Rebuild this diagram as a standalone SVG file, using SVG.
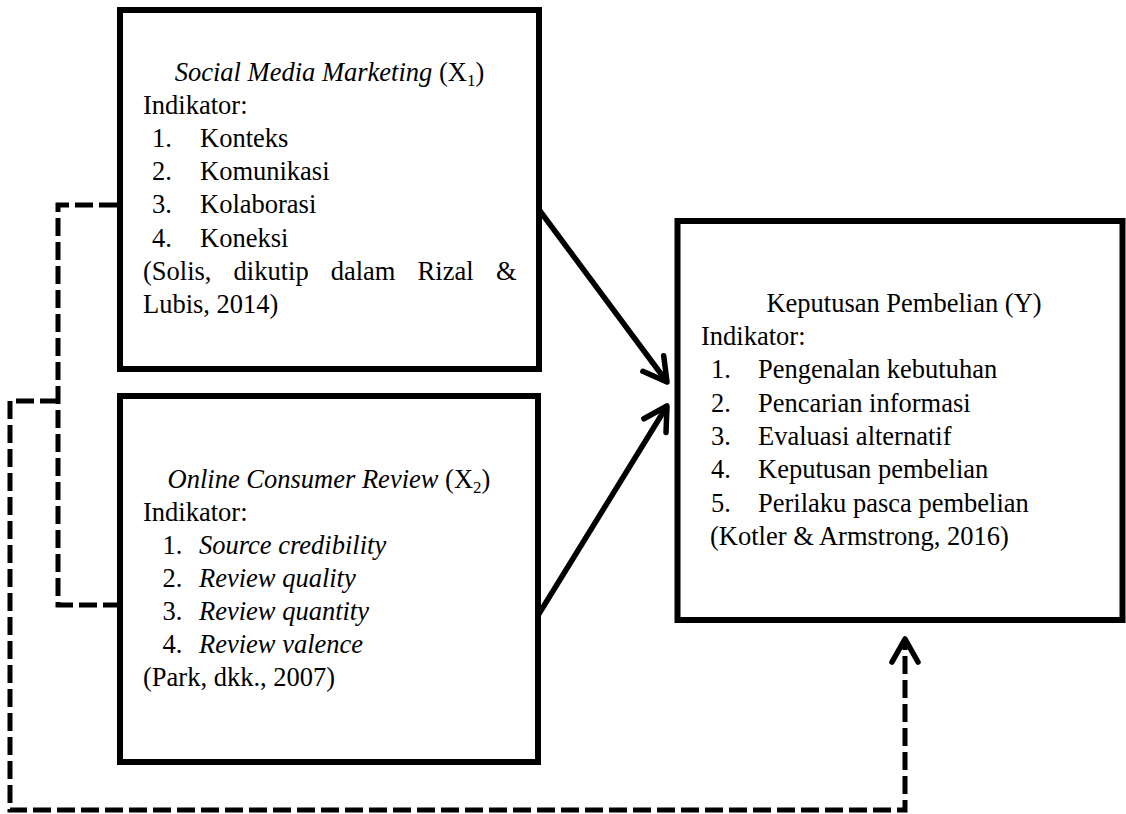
<svg xmlns="http://www.w3.org/2000/svg" width="1126" height="814" viewBox="0 0 1126 814">
<style>
.box{fill:#fff;stroke:#000;stroke-width:6}
.t{font-family:"Liberation Serif","Times New Roman",serif;font-size:26.5px;fill:#000}
.i{font-style:italic}
.solid{fill:none;stroke:#000;stroke-width:5.5}
.dash{fill:none;stroke:#000;stroke-width:5;stroke-dasharray:18 6}
</style>
<defs>
<marker id="arr" markerUnits="userSpaceOnUse" markerWidth="60" markerHeight="60" viewBox="-30 -30 60 60" refX="0" refY="0" orient="auto" overflow="visible">
<path d="M -23 -13 L 0 0 L -23 13" fill="none" stroke="#000" stroke-width="5.5" stroke-linecap="round" stroke-linejoin="round"/>
</marker>
</defs>
<rect width="1126" height="814" fill="#fff"/>
<g id="connectors">
<path class="dash" d="M 117 205 H 58 V 605 H 117"/>
<path class="dash" d="M 58 401 H 10 V 810 H 905 V 639" marker-end="url(#arr)"/>
<path class="solid" d="M 537 207 L 667 382" marker-end="url(#arr)"/>
<path class="solid" d="M 537 617 L 667 406" marker-end="url(#arr)"/>
</g>
<g id="x1">
<rect class="box" x="120" y="10" width="419" height="359"/>
<text class="t" x="329.5" y="81" text-anchor="middle"><tspan class="i">Social Media Marketing</tspan> (X<tspan font-size="17" dy="5">1</tspan><tspan dy="-5">)</tspan></text>
<text class="t" x="143" y="114">Indikator:</text>
<text class="t" x="152" y="147">1.</text><text class="t" x="200" y="147">Konteks</text>
<text class="t" x="152" y="180">2.</text><text class="t" x="200" y="180">Komunikasi</text>
<text class="t" x="152" y="213">3.</text><text class="t" x="200" y="213">Kolaborasi</text>
<text class="t" x="152" y="247">4.</text><text class="t" x="200" y="247">Koneksi</text>
<text class="t" y="280"><tspan x="143">(Solis,</tspan><tspan x="233.6">dikutip</tspan><tspan x="330.7">dalam</tspan><tspan x="417.6">Rizal</tspan><tspan x="495.9">&amp;</tspan></text>
<text class="t" x="143" y="313">Lubis, 2014)</text>
</g>
<g id="x2">
<rect class="box" x="120" y="396" width="418" height="366"/>
<text class="t" x="329" y="488" text-anchor="middle"><tspan class="i">Online Consumer Review</tspan> (X<tspan font-size="17" dy="5">2</tspan><tspan dy="-5">)</tspan></text>
<text class="t" x="143" y="521">Indikator:</text>
<text class="t" x="162.5" y="554">1.</text><text class="t i" x="199" y="554">Source credibility</text>
<text class="t" x="162.5" y="587">2.</text><text class="t i" x="199" y="587">Review quality</text>
<text class="t" x="162.5" y="620">3.</text><text class="t i" x="199" y="620">Review quantity</text>
<text class="t" x="162.5" y="653">4.</text><text class="t i" x="199" y="653">Review valence</text>
<text class="t" x="143" y="686">(Park, dkk., 2007)</text>
</g>
<g id="y">
<rect class="box" x="677.5" y="221" width="445" height="399"/>
<text class="t" x="904" y="312" text-anchor="middle">Keputusan Pembelian (Y)</text>
<text class="t" x="701" y="345">Indikator:</text>
<text class="t" x="711" y="378">1.</text><text class="t" x="758" y="378">Pengenalan kebutuhan</text>
<text class="t" x="711" y="411.5">2.</text><text class="t" x="758" y="411.5">Pencarian informasi</text>
<text class="t" x="711" y="445">3.</text><text class="t" x="758" y="445">Evaluasi alternatif</text>
<text class="t" x="711" y="478">4.</text><text class="t" x="758" y="478">Keputusan pembelian</text>
<text class="t" x="711" y="511.5">5.</text><text class="t" x="758" y="511.5">Perilaku pasca pembelian</text>
<text class="t" x="710" y="545">(Kotler &amp; Armstrong, 2016)</text>
</g>
</svg>
